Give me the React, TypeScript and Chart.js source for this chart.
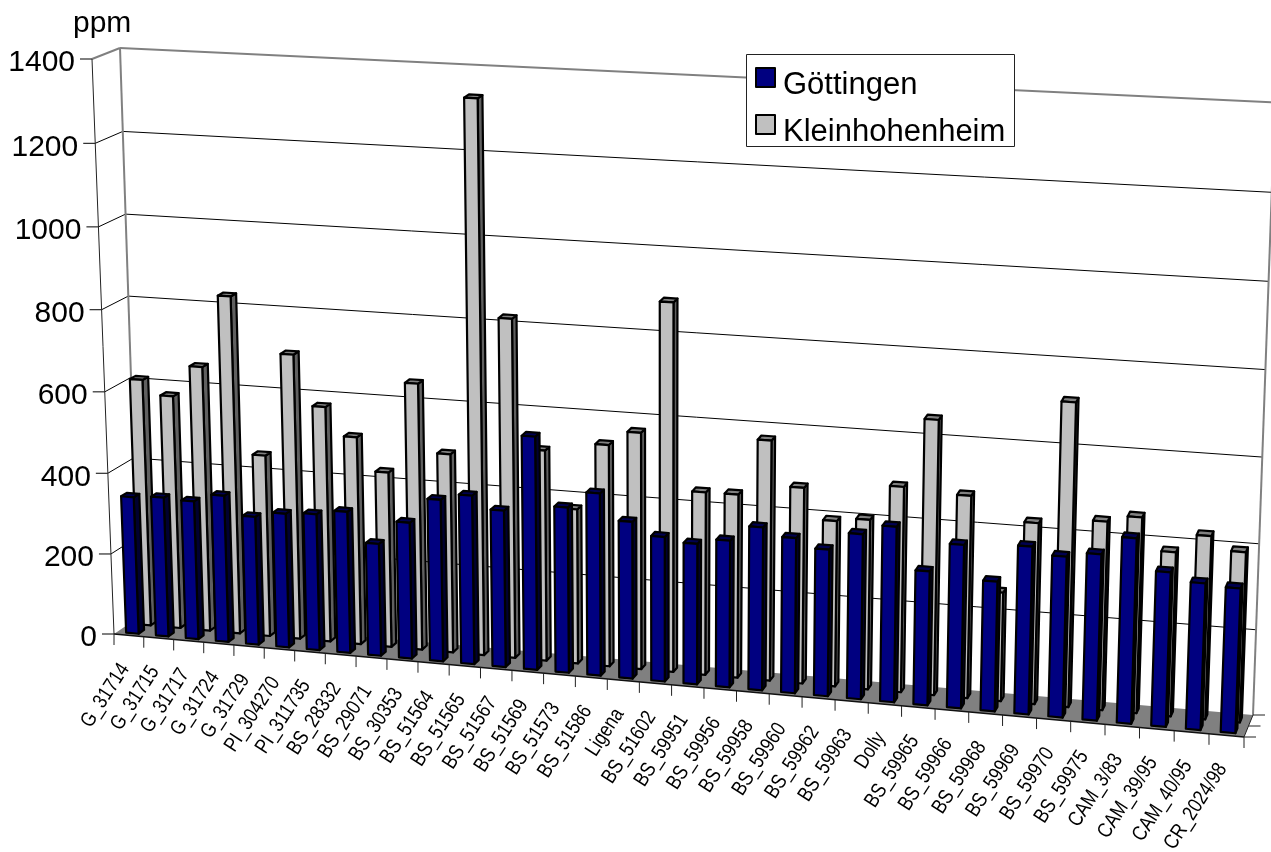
import React, { useEffect, useRef } from "react";
import { Chart, registerables } from "chart.js";

Chart.register(...registerables);

const categories = [
  "G_31714", "G_31715", "G_31717", "G_31724", "G_31729", "PI_304270", "PI_311735",
  "BS_28332", "BS_29071", "BS_30353", "BS_51564", "BS_51565", "BS_51567", "BS_51569",
  "BS_51573", "BS_51586", "Ligena", "BS_51602", "BS_59951", "BS_59956", "BS_59958",
  "BS_59960", "BS_59962", "BS_59963", "Dolly", "BS_59965", "BS_59966", "BS_59968",
  "BS_59969", "BS_59970", "BS_59975", "CAM_3/83", "CAM_39/95", "CAM_40/95", "CR_2024/98",
];
const gottingen = [
  340, 345, 342, 362, 316, 330, 335, 347, 275, 333, 395, 411, 381, 565, 401, 441, 379, 349,
  339, 353, 391, 372, 351, 394, 418, 319, 388, 308, 397, 380, 392, 436, 363, 344, 339,
];
const kleinhohenheim = [
  611, 576, 653, 830, 447, 699, 577, 509, 429, 650, 485, 1336, 821, 511, 375, 536, 571, 885,
  440, 441, 575, 469, 396, 405, 489, 652, 480, 258, 428, 715, 444, 460, 385, 429, 398,
];
const yTicks = [0, 200, 400, 600, 800, 1000, 1200, 1400];
const unitLabel = "ppm";

type P = [number, number];
const FONT = '"Liberation Sans", Arial, sans-serif';

// Corners of the 3D box on the picture: F = front plane, B = back wall.
const F = { bl: [114, 634] as P, br: [1244, 737] as P, tl: [92, 59] as P, tr: [1266.5, 125] as P };
const B = { bl: [139, 617] as P, br: [1253, 715] as P, tl: [120, 48] as P, tr: [1275, 102.5] as P };

function warpU(u: number) { return (0.92 * u) / (1 - 0.08 * u); }
function warpV(v: number) { return (0.97 * v) / (1 - 0.03 * v); }
function bil(c: typeof F, u: number, v: number): P {
  const bx = c.bl[0] + (c.br[0] - c.bl[0]) * u, by = c.bl[1] + (c.br[1] - c.bl[1]) * u;
  const tx = c.tl[0] + (c.tr[0] - c.tl[0]) * u, ty = c.tl[1] + (c.tr[1] - c.tl[1]) * u;
  return [bx + (tx - bx) * v, by + (ty - by) * v];
}

const box3d = {
  id: "box3d",
  beforeDatasetDraw() { return false; },
  afterDraw(chart: any) {
    const { ctx, chartArea: a, scales } = chart;
    const xs = scales.x, ys = scales.y;
    const proj = (xPx: number, yPx: number, d: number): P => {
      const u = warpU((xPx - a.left) / (a.right - a.left));
      const v = warpV((a.bottom - yPx) / (a.bottom - a.top));
      const f = bil(F, u, v), b = bil(B, u, v);
      return [f[0] + (b[0] - f[0]) * d, f[1] + (b[1] - f[1]) * d];
    };
    const cell = (a.right - a.left) / categories.length;
    const poly = (pts: P[], fill: string | null, stroke: string | null, lw = 2.2) => {
      ctx.beginPath();
      pts.forEach((p, i) => (i ? ctx.lineTo(p[0], p[1]) : ctx.moveTo(p[0], p[1])));
      if (fill) { ctx.closePath(); ctx.fillStyle = fill; ctx.fill(); }
      if (stroke) { ctx.strokeStyle = stroke; ctx.lineWidth = lw; ctx.stroke(); }
    };
    const line = (p: P, q: P, col: string, lw: number) => poly([p, q], null, col, lw);
    ctx.save();
    ctx.lineJoin = "round";
    const L = a.left, R = a.right, B0 = a.bottom;

    // floor
    poly([proj(L, B0, 0), proj(R, B0, 0), proj(R, B0, 1), proj(L, B0, 1)], "#808080", null);

    // gridlines on back and side walls, y axis
    yTicks.forEach((t) => {
      const y = ys.getPixelForValue(t);
      const col = t === 1400 ? "#808080" : "#000";
      const lw = t === 1400 ? 2 : 1;
      if (t > 0) {
        line(proj(L, y, 1), proj(R, y, 1), col, lw);
        line(proj(L, y, 0), proj(L, y, 1), col, lw);
      }
      const p = proj(L, y, 0);
      line([p[0] - 12, p[1]], p, "#000", 1);
      ctx.save();
      ctx.font = `30px ${FONT}`;
      ctx.textAlign = "right";
      ctx.textBaseline = "middle";
      ctx.fillStyle = "#000";
      ctx.fillText(String(t), p[0] - 17, p[1] + 4);
      ctx.restore();
    });
    line(proj(L, ys.getPixelForValue(0), 1), proj(L, ys.getPixelForValue(1400), 1), "#808080", 2);
    line(proj(R, ys.getPixelForValue(0), 1), proj(R, ys.getPixelForValue(1400), 1), "#808080", 2);
    line(proj(L, B0, 0), proj(L, a.top, 0), "#222", 1);

    // bars
    const drawBars = (di: number, d0: number, d1: number, face: string, side: string, top: string) => {
      const meta = chart.getDatasetMeta(di);
      meta.data.forEach((el: any, i: number) => {
        const c = xs.getPixelForValue(i);
        const x0 = c - cell * 0.2, x1 = c + cell * 0.22;
        const y = el.y, b = el.base;
        poly([proj(x1, b, d0), proj(x1, b, d1), proj(x1, y, d1), proj(x1, y, d0)], side, "#000");
        poly([proj(x0, y, d0), proj(x1, y, d0), proj(x1, y, d1), proj(x0, y, d1)], top, "#000");
        poly([proj(x0, b, d0), proj(x1, b, d0), proj(x1, y, d0), proj(x0, y, d0)], face, "#000");
      });
    };
    drawBars(1, 0.62, 0.84, "#C0C0C0", "#606060", "#808080");
    drawBars(0, 0.13, 0.35, "#000080", "#000030", "#000050");

    // front floor edge, ticks
    line(proj(L, B0, 0), proj(R, B0, 0), "#111", 1.5);
    for (let i = 0; i <= categories.length; i++) {
      const p = proj(L + i * cell, B0, 0);
      line(p, [p[0], p[1] + 11], "#222", 1);
    }
    line(proj(R, B0, 0), proj(R, B0, 1), "#222", 1);
    [0, 0.5, 1].forEach((d) => {
      const p = proj(R, B0, d);
      line(p, [p[0] + 12, p[1]], "#222", 1);
    });

    // category labels
    ctx.font = `21px ${FONT}`;
    ctx.fillStyle = "#000";
    ctx.textAlign = "right";
    ctx.textBaseline = "middle";
    categories.forEach((_, i) => {
      const p = proj(xs.getPixelForValue(i), B0, 0);
      ctx.save();
      ctx.translate(p[0] - 4, p[1] + 30);
      ctx.rotate((-57 * Math.PI) / 180);
      ctx.scale(0.83, 1);
      ctx.fillText(xs.getLabelForValue(i), 0, 0);
      ctx.restore();
    });

    // unit
    ctx.font = `30px ${FONT}`;
    ctx.textAlign = "left";
    ctx.textBaseline = "alphabetic";
    ctx.fillText(unitLabel, 73, 32);

    // legend
    ctx.fillStyle = "#fff";
    ctx.fillRect(747, 54, 268, 93);
    ctx.strokeStyle = "#222";
    ctx.lineWidth = 1;
    ctx.strokeRect(746.5, 54.5, 268, 92);
    chart.data.datasets.forEach((ds: any, i: number) => {
      const y = 68 + i * 47;
      ctx.fillStyle = ds.backgroundColor;
      ctx.fillRect(756, y, 19, 19);
      ctx.strokeStyle = "#000";
      ctx.lineWidth = 2;
      ctx.strokeRect(756, y, 19, 19);
      ctx.fillStyle = "#000";
      ctx.font = `31px ${FONT}`;
      ctx.fillText(ds.label, 783, y + 25.5);
    });
    ctx.restore();
  },
};

export default function App() {
  const ref = useRef<HTMLCanvasElement>(null);
  useEffect(() => {
    const chart = new Chart(ref.current as HTMLCanvasElement, {
      type: "bar",
      data: {
        labels: categories,
        datasets: [
          { label: "Göttingen", data: gottingen, backgroundColor: "#000080" },
          { label: "Kleinhohenheim", data: kleinhohenheim, backgroundColor: "#C0C0C0" },
        ],
      },
      options: {
        responsive: false,
        animation: false,
        layout: { padding: { left: 114, right: 27, top: 59, bottom: 218 } },
        plugins: { legend: { display: false }, tooltip: { enabled: false } },
        scales: {
          x: { type: "category", display: false, offset: true },
          y: { type: "linear", display: false, min: 0, max: 1400 },
        },
      },
      plugins: [box3d],
    } as any);
    return () => chart.destroy();
  }, []);
  return (
    <div style={{ position: "fixed", left: 0, top: 0, width: 1271, height: 852, background: "#fff" }}>
      <canvas ref={ref} width={1271} height={852} style={{ display: "block" }} />
    </div>
  );
}
